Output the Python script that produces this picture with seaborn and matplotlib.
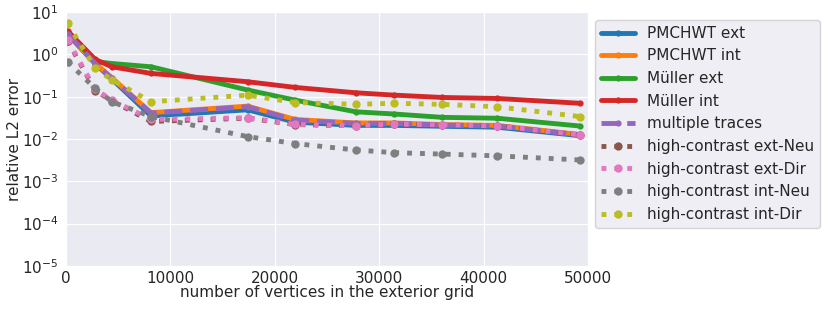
import matplotlib
matplotlib.use("Agg")
import matplotlib.pyplot as plt
import seaborn as sns

# number of vertices in the exterior grid
vertices = [150, 2800, 4400, 8150, 17400, 21950, 27750, 31450, 36050, 41300, 49200]

pmchwt_ext = [3.0, 0.60, 0.26, 0.035, 0.049, 0.025, 0.021, 0.021, 0.020, 0.019, 0.012]
pmchwt_int = [3.1, 0.62, 0.28, 0.042, 0.060, 0.029, 0.024, 0.024, 0.022, 0.021, 0.0128]
muller_ext = [3.3, 0.68, 0.61, 0.51, 0.144, 0.083, 0.044, 0.039, 0.0325, 0.031, 0.0203]
muller_int = [3.6, 0.76, 0.51, 0.356, 0.226, 0.166, 0.124, 0.109, 0.096, 0.091, 0.070]
multiple_traces = [3.1, 0.61, 0.27, 0.041, 0.058, 0.028, 0.0234, 0.0234, 0.0214, 0.0203, 0.0126]
hc_ext_neu = [2.1, 0.14, 0.080, 0.026, 0.031, 0.022, 0.0205, 0.0225, 0.0215, 0.0204, 0.0125]
hc_ext_dir = [2.2, 0.149, 0.083, 0.029, 0.0318, 0.0222, 0.0205, 0.0226, 0.0216, 0.0205, 0.0126]
hc_int_neu = [0.67, 0.157, 0.076, 0.034, 0.0114, 0.0078, 0.0055, 0.00475, 0.0044, 0.0040, 0.0032]
hc_int_dir = [5.4, 0.47, 0.25, 0.076, 0.109, 0.073, 0.066, 0.070, 0.066, 0.058, 0.034]

series = [
    ("PMCHWT ext", pmchwt_ext, "-"),
    ("PMCHWT int", pmchwt_int, "-"),
    ("Müller ext", muller_ext, "-"),
    ("Müller int", muller_int, "-"),
    ("multiple traces", multiple_traces, "--"),
    ("high-contrast ext-Neu", hc_ext_neu, ":"),
    ("high-contrast ext-Dir", hc_ext_dir, ":"),
    ("high-contrast int-Neu", hc_int_neu, ":"),
    ("high-contrast int-Dir", hc_int_dir, ":"),
]

sns.set_style("darkgrid")
plt.rcParams["font.family"] = ["DejaVu Sans"]
colors = sns.color_palette("tab10", len(series))

fig = plt.figure(figsize=(8.3, 3.11), dpi=100)
ax = fig.add_axes([0.0795, 0.145, 0.629, 0.816])

for (label, values, style), color in zip(series, colors):
    big = style == ":"
    sns.lineplot(x=vertices, y=values, ax=ax, label=label, color=color,
                 linestyle=style, linewidth=3.5, marker="o",
                 markersize=6 if big else 4.5, markeredgewidth=0)

ax.set_yscale("log")
ax.set_xlim(0, 50000)
ax.set_ylim(1e-5, 10)
ax.tick_params(axis="y", labelsize=11, pad=2)
ax.tick_params(axis="x", labelsize=11, pad=0.5)
ax.set_xlabel("number of vertices in the exterior grid", fontsize=11, labelpad=-1)
ax.set_ylabel("relative L2 error", fontsize=11, labelpad=0)
ax.legend(loc="upper left", bbox_to_anchor=(1.013, 0.97), fontsize=11,
          handlelength=2.2, borderaxespad=0)

fig.savefig("out.png", dpi=100)
